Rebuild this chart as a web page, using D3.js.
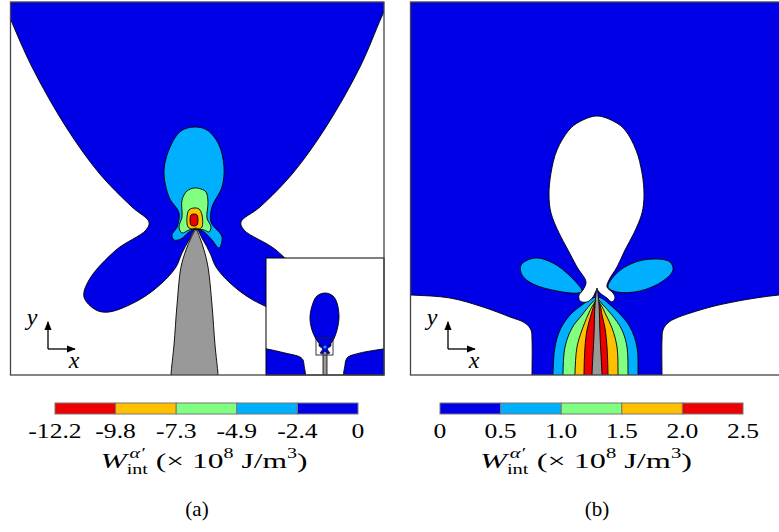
<!DOCTYPE html>
<html>
<head>
<meta charset="utf-8">
<script src="https://cdn.jsdelivr.net/npm/d3@7"></script>
<style>
  body { margin: 0; background: #fff; }
  svg { display: block; }
  text { fill: #000; }
</style>
</head>
<body>
<svg id="chart" width="779" height="532"></svg>
<script>
const serif = "'Liberation Serif', 'Times New Roman', Times, serif";

// colour levels
const ticksA = ['-12.2', '-9.8', '-7.3', '-4.9', '-2.4', '0'];
const ticksB = ['0', '0.5', '1.0', '1.5', '2.0', '2.5'];
const colorsA = ['#ee0000', '#ffc000', '#80ff80', '#00b0ff', '#0000e6'];
const colorsB = ['#0000e6', '#00b0ff', '#80ff80', '#ffc000', '#ee0000'];
const gray = '#999999';

// contour outlines, panel (a)  (x centred on the needle, y up from the bottom edge)
const blueA = [[-200,400],[200,400],[196,380],[186,359],[164,308],[130,248],[97,202],[64,168],[45,153],[48,145],[80,125],[107,95],[112,78],[100,65],[87,63],[57,75],[34,92],[20,108],[14,122],[7,135],[0,146],[-7,135],[-14,122],[-20,108],[-34,92],[-57,75],[-87,63],[-100,65],[-112,78],[-107,95],[-80,125],[-50,145],[-47,153],[-64,168],[-97,202],[-130,248],[-164,308],[-186,357],[-196,380]];
const cyanA = [[-2,248],[11,245],[23,230],[28,208],[26,188],[16,168],[15,153],[26,138],[23,127],[16,135],[8,143],[0,146],[-7,143],[-15,136],[-22,135],[-24,140],[-19,148],[-17,162],[-27,178],[-32,205],[-25,230],[-15,244]];
const greenA = [[-2,187],[5,186],[10,183],[12,173],[11,157],[15,148],[13,143],[8,145],[0,146],[-7,145],[-14,142],[-17,148],[-14,158],[-14,175],[-9,184]];
const orangeA = [[-2,167],[3,166],[6,160],[6,148],[3,146],[0,147],[-4,146],[-8,148],[-9,158],[-7,165]];
const redA = [[-2,161],[1,160],[2,155],[1,150],[-2,149],[-5,150],[-6,155],[-5,160]];
const needleA = [[0,145],[4,137],[8,125],[12,108],[16,70],[19,30],[22,0],[22,-10],[-25,-10],[-25,0],[-22,30],[-19,70],[-15,108],[-10,125],[-5,137]];

// inset of panel (a)
const insetOval = [[0,82],[8,79],[12,72],[14,58],[12,45],[7,33],[0,27],[-7,33],[-13,45],[-15,58],[-12,72],[-8,79]];
const insetLeft = [[-65,27],[-58,26],[-40,22],[-25,18],[-22,15],[-21,10],[-21,-5],[-65,-5]];
const insetRight = [[20,-5],[20,10],[21,15],[23,18],[35,22],[58,26],[65,27],[65,-5]];
const insetCross = [[-6,31],[0,28],[6,31],[6,29],[2,26],[5,22],[3,21],[0,24],[-3,21],[-5,22],[-2,26],[-6,29]];
const insetNeedle = [[-2,28],[2,28],[2,-5],[-2,-5]];
const insetBox = [[-9,20],[8,37]];

// contour outlines, panel (b)
const whiteLeftB = [[-210,81],[-186,80],[-147,77],[-114,68],[-87,58],[-72,52],[-66,45],[-65,35],[-65,0],[-65,-10],[-210,-10]];
const whiteRightB = [[65,-10],[65,0],[65,35],[66,45],[72,53],[103,65],[136,73],[182,80],[210,81],[210,-10]];
const ovalB = [[0,259],[18,253],[28,245],[39,225],[45,202],[47,180],[45,162],[37,142],[28,125],[20,108],[12,95],[10,88],[16,82],[18,77],[15,73],[10,77],[3,82],[0,85],[-4,78],[-10,73],[-17,74],[-18,80],[-14,85],[-11,93],[-20,108],[-29,125],[-38,142],[-46,162],[-48,180],[-46,202],[-40,225],[-28,245],[-18,253]];
const lobeLeftB = [[-76,110],[-62,117],[-44,112],[-26,98],[-15,84],[-19,82],[-40,84],[-64,91],[-75,100]];
const lobeRightB = [[11,88],[20,102],[36,112],[56,116],[73,113],[76,105],[66,94],[43,84],[20,83]];
const fanCyanB = [[-44,-10],[-44,2],[-42,28],[-37,45],[-27,60],[-15,70],[-6,76],[0,78],[6,76],[12,71],[22,62],[33,48],[40,28],[41,2],[41,-10]];
const fanGreenB = [[-34,-10],[-34,2],[-32,28],[-25,47],[-15,60],[-7,70],[0,76],[6,70],[15,60],[25,45],[30,28],[31,2],[31,-10]];
const fanOrangeB = [[-22,-10],[-22,2],[-20,28],[-15,45],[-9,60],[-4,70],[0,75],[4,70],[9,60],[15,47],[20,28],[21,2],[21,-10]];
const fanRedB = [[-13,-10],[-13,2],[-12,28],[-10,45],[-6,60],[-2,72],[0,74],[3,70],[5,60],[8,47],[10,28],[11,2],[11,-10]];
const needleB = [[0,87],[2,70],[3,40],[5,0],[5,-10],[-5,-10],[-5,0],[-3,40],[-2,70]];

const svg = d3.select('#chart');
const defs = svg.append('defs');
defs.append('marker')
  .attr('id', 'arrow')
  .attr('viewBox', '0 0 10 10')
  .attr('refX', 9).attr('refY', 5)
  .attr('markerWidth', 9).attr('markerHeight', 9)
  .attr('markerUnits', 'userSpaceOnUse')
  .attr('orient', 'auto')
  .append('path').attr('d', 'M0,1 L10,5 L0,9 Z').attr('fill', '#000');

function clip(id, x0, y0, w, h) {
  defs.append('clipPath').attr('id', id)
    .append('rect').attr('x', x0).attr('y', y0).attr('width', w).attr('height', h);
}

function drawShapes(g, x, y, layers) {
  layers.forEach(l => {
    const curve = l.straight ? d3.curveLinearClosed : d3.curveCatmullRomClosed.alpha(0.5);
    const line = d3.line().x(d => x(d[0])).y(d => y(d[1])).curve(curve);
    g.append('path')
      .attr('d', line(l.pts))
      .attr('fill', l.fill)
      .attr('stroke', '#000')
      .attr('stroke-width', l.sw || 0.9)
      .attr('stroke-linejoin', 'round');
  });
}

function triad(px) {
  const g = svg.append('g');
  const ox = px + 38, oy = 349;
  g.append('line').attr('x1', ox).attr('y1', oy).attr('x2', ox).attr('y2', oy - 27)
    .attr('stroke', '#000').attr('stroke-width', 1.3).attr('marker-end', 'url(#arrow)');
  g.append('line').attr('x1', ox).attr('y1', oy).attr('x2', ox + 27).attr('y2', oy)
    .attr('stroke', '#000').attr('stroke-width', 1.3).attr('marker-end', 'url(#arrow)');
  g.append('text').attr('x', ox - 16).attr('y', oy - 24).attr('text-anchor', 'middle')
    .attr('font-family', serif).attr('font-size', 24).attr('font-style', 'italic').text('y');
  g.append('text').attr('x', ox + 26).attr('y', oy + 19).attr('text-anchor', 'middle')
    .attr('font-family', serif).attr('font-size', 24).attr('font-style', 'italic').text('x');
}

// ---- panel (a)
const xA = d3.scaleLinear().domain([-186, 188]).range([10, 384]);
const yA = d3.scaleLinear().domain([0, 373]).range([375, 2]);
clip('clipA', 10, 2, 374, 373);
const gA = svg.append('g').attr('clip-path', 'url(#clipA)');
gA.append('rect').attr('x', 10).attr('y', 2).attr('width', 374).attr('height', 373).attr('fill', '#fff');
drawShapes(gA, xA, yA, [
  { pts: blueA, fill: colorsA[4] },
  { pts: cyanA, fill: colorsA[3] },
  { pts: greenA, fill: colorsA[2] },
  { pts: orangeA, fill: colorsA[1] },
  { pts: redA, fill: colorsA[0] },
  { pts: needleA, fill: gray }
]);

// inset
const xI = d3.scaleLinear().domain([-59, 59]).range([266, 384]);
const yI = d3.scaleLinear().domain([0, 117]).range([375, 258]);
clip('clipI', 266, 258, 118, 117);
const gI = svg.append('g').attr('clip-path', 'url(#clipI)');
gI.append('rect').attr('x', 266).attr('y', 258).attr('width', 118).attr('height', 117).attr('fill', '#fff');
drawShapes(gI, xI, yI, [
  { pts: insetLeft, fill: colorsA[4] },
  { pts: insetRight, fill: colorsA[4] },
  { pts: insetOval, fill: colorsA[4] },
  { pts: insetNeedle, fill: gray, straight: true, sw: 0.8 },
  { pts: insetCross, fill: colorsA[4], straight: true, sw: 0.6 }
]);
gI.append('circle').attr('cx', xI(0)).attr('cy', yI(28)).attr('r', 1.6).attr('fill', colorsA[3]);
gI.append('rect')
  .attr('x', xI(insetBox[0][0])).attr('y', yI(insetBox[1][1]))
  .attr('width', xI(insetBox[1][0]) - xI(insetBox[0][0]))
  .attr('height', yI(insetBox[0][1]) - yI(insetBox[1][1]))
  .attr('fill', 'none').attr('stroke', '#222').attr('stroke-width', 0.9);
svg.append('rect').attr('x', 266).attr('y', 258).attr('width', 118).attr('height', 117)
  .attr('fill', 'none').attr('stroke', '#000').attr('stroke-width', 1);

svg.append('rect').attr('x', 10.5).attr('y', 2).attr('width', 373.5).attr('height', 373)
  .attr('fill', 'none').attr('stroke', '#444').attr('stroke-width', 1.3);
triad(10);

// ---- panel (b)
const xB = d3.scaleLinear().domain([-186, 188]).range([411, 785]);
const yB = d3.scaleLinear().domain([0, 373]).range([375, 2]);
clip('clipB', 411, 2, 374, 373);
const gB = svg.append('g').attr('clip-path', 'url(#clipB)');
gB.append('rect').attr('x', 411).attr('y', 2).attr('width', 374).attr('height', 373).attr('fill', colorsB[0]);
drawShapes(gB, xB, yB, [
  { pts: whiteLeftB, fill: '#fff' },
  { pts: whiteRightB, fill: '#fff' },
  { pts: fanCyanB, fill: colorsB[1] },
  { pts: fanGreenB, fill: colorsB[2] },
  { pts: fanOrangeB, fill: colorsB[3] },
  { pts: fanRedB, fill: colorsB[4] },
  { pts: ovalB, fill: '#fff' },
  { pts: lobeLeftB, fill: colorsB[1] },
  { pts: lobeRightB, fill: colorsB[1] },
  { pts: needleB, fill: gray }
]);
svg.append('rect').attr('x', 410.5).attr('y', 2).attr('width', 380).attr('height', 373)
  .attr('fill', 'none').attr('stroke', '#444').attr('stroke-width', 1.3);
triad(410);

// ---- colour bars
function colorbar(ticks, colors, x0, x1) {
  const s = d3.scalePoint().domain(ticks).range([x0, x1]);
  const g = svg.append('g');
  g.selectAll('rect.cell').data(colors).join('rect')
    .attr('class', 'cell')
    .attr('x', (c, i) => s(ticks[i]))
    .attr('y', 403)
    .attr('width', (c, i) => s(ticks[i + 1]) - s(ticks[i]))
    .attr('height', 11)
    .attr('fill', c => c)
    .attr('stroke', '#777').attr('stroke-width', 1);
  g.selectAll('text.tick').data(ticks).join('text')
    .attr('class', 'tick')
    .attr('transform', d => `translate(${s(d)},438) scale(1.22,1)`)
    .attr('text-anchor', 'middle')
    .attr('font-family', serif)
    .attr('font-size', 21)
    .text(d => d);
}
colorbar(ticksA, colorsA, 55, 358);
colorbar(ticksB, colorsB, 440, 743);

function quantityLabel(cx, baseline, targetWidth) {
  const g = svg.append('g');
  const inner = g.append('g').attr('font-family', serif);
  let cur = 0;
  const put = (t, size, dy, italic) => {
    const el = inner.append('text').attr('x', cur).attr('y', dy)
      .attr('font-size', size).attr('font-style', italic ? 'italic' : 'normal').text(t);
    return el.node().getComputedTextLength();
  };
  cur += put('W', 22, 0, true);
  const start = cur;
  const wSub = put('int', 14, 6, false);
  cur = start + 2;
  const wSup = put('α′', 14, -10, true);
  cur = start + Math.max(wSub, wSup + 2);
  cur += put('\u00a0(×\u00a010', 22, 0, false);
  cur += put('8', 14, -10, false);
  cur += put('\u00a0J/m', 22, 0, false);
  cur += put('3', 14, -10, false);
  cur += put(')', 22, 0, false);
  const sx = targetWidth / cur;
  g.attr('transform', `translate(${cx - targetWidth / 2},${baseline}) scale(${sx},1)`);
}
quantityLabel(204, 468, 207);
quantityLabel(586, 468, 212);

svg.append('text').attr('x', 197).attr('y', 516).attr('text-anchor', 'middle')
  .attr('font-family', serif).attr('font-size', 21).text('(a)');
svg.append('text').attr('x', 597).attr('y', 516).attr('text-anchor', 'middle')
  .attr('font-family', serif).attr('font-size', 21).text('(b)');
</script>
</body>
</html>
